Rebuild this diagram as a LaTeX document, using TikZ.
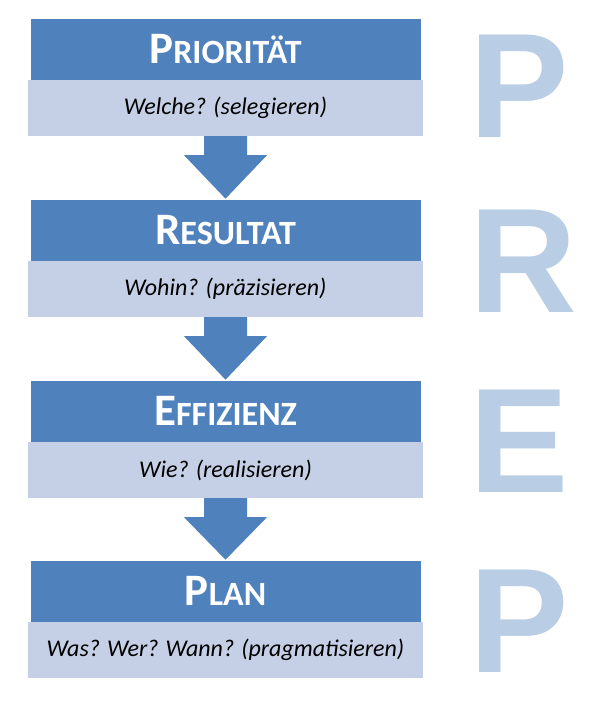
\documentclass[tikz,border=0pt]{standalone}
\usepackage{fontspec}
\setmainfont{Carlito}
\newfontfamily\arialf{Liberation Sans}
\usetikzlibrary{calc}
\definecolor{hdr}{RGB}{79,129,189}
\definecolor{lite}{RGB}{197,208,230}
\definecolor{letter}{RGB}{185,205,229}
\newcommand{\hsc}[2]{{\fontsize{45}{45}\selectfont #1}{\fontsize{34}{34}\selectfont #2}}
\begin{document}
\begin{tikzpicture}[x=1pt,y=-1pt,
  hdrbox/.style={fill=hdr, draw=white, line width=0.6pt, minimum width=391pt, minimum height=62pt, inner sep=0pt, text=white, font=\bfseries},
  litebox/.style={fill=lite, minimum width=395pt, minimum height=56pt, inner sep=0pt, font=\itshape\fontsize{24}{24}\selectfont},
  bigletter/.style={text=letter, font=\arialf\bfseries\fontsize{149}{149}\selectfont, inner sep=0pt, anchor=base west},
  flowarrow/.style={fill=hdr}]
\useasboundingbox (0,0) rectangle (600,707);
% step 1
\node[hdrbox] (h1) at (225.5,49) {\hsc{P}{RIORITÄT}};
\node[litebox] (l1) at (225.5,108) {Welche? (selegieren)};
% step 2
\node[hdrbox] (h2) at (225.5,230) {\hsc{R}{ESULTAT}};
\node[litebox] (l2) at (225.5,289) {Wohin? (präzisieren)};
% step 3
\node[hdrbox] (h3) at (225.5,411) {\hsc{E}{FFIZIENZ}};
\node[litebox] (l3) at (225.5,470) {Wie? (realisieren)};
% step 4
\node[hdrbox] (h4) at (225.5,591) {\hsc{P}{LAN}};
\node[litebox] (l4) at (225.5,650) {Was? Wer? Wann? (pragmatisieren)};
% arrows
\foreach \a/\b in {l1/h2, l2/h3, l3/h4}
  \fill[flowarrow] ($(\a.south)+(-21.5,0)$) -- ($(\a.south)+(21.5,0)$) -- ($(\a.south)+(21.5,19)$) -- ($(\a.south)+(41.5,19)$) -- (\b.north) -- ($(\a.south)+(-41.5,19)$) -- ($(\a.south)+(-21.5,19)$) -- cycle;
% big letters
\node[bigletter] (p1) at (469,137) {P};
\node[bigletter] (r1) at (469,312) {R};
\node[bigletter] (e1) at (469,492) {E};
\node[bigletter] (p2) at (469,672) {P};
\end{tikzpicture}
\end{document}
